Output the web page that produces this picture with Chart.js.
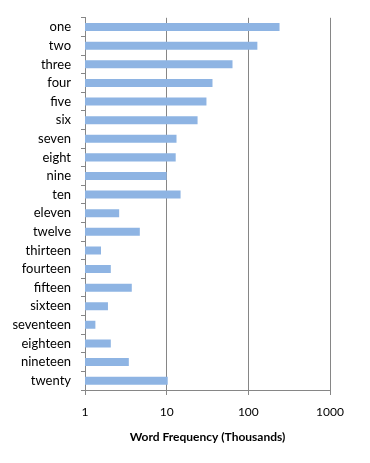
<!DOCTYPE html>
<html>
<head>
<meta charset="utf-8">
<script src="https://cdn.jsdelivr.net/npm/chart.js@4"></script>
<style>
  html, body { margin: 0; padding: 0; background: #fff; }
  #wrap { width: 370px; height: 463px; }
</style>
</head>
<body>
<div id="wrap"><canvas id="myChart"></canvas></div>
<script>
// word categories and frequencies (thousands)
const words = ['one', 'two', 'three', 'four', 'five', 'six', 'seven', 'eight', 'nine', 'ten',
  'eleven', 'twelve', 'thirteen', 'fourteen', 'fifteen', 'sixteen', 'seventeen', 'eighteen', 'nineteen', 'twenty'];
const freq = [241, 129, 64, 36.4, 30.7, 23.9, 13.2, 12.9, 10, 14.8,
  2.62, 4.69, 1.57, 2.07, 3.74, 1.91, 1.34, 2.07, 3.44, 10.3];
const xTicks = [1, 10, 100, 1000];

const axisGray = '#868686';

var ctx = document.getElementById('myChart').getContext('2d');
var chart = new Chart(ctx, {
    type: 'bar',
    data: {
        labels: words,
        datasets: [{
            data: freq,
            backgroundColor: '#8EB4E3',
            borderWidth: 0,
            categoryPercentage: 0.86,
            barPercentage: 0.5
        }]
    },
    options: {
        indexAxis: 'y',
        responsive: true,
        maintainAspectRatio: false,
        animation: false,
        layout: { padding: { top: 15, right: 40, left: 0, bottom: 19 } },
        plugins: {
            legend: { display: false },
            tooltip: { enabled: false }
        },
        scales: {
            x: {
                type: 'logarithmic',
                min: 1,
                max: 1000,
                afterBuildTicks: function (scale) {
                    scale.ticks = xTicks.map(v => ({ value: v }));
                },
                afterFit: function (scale) { scale.height = 54; },
                ticks: {
                    color: '#000',
                    font: { family: 'Lato', size: 12 },
                    padding: 10,
                    maxRotation: 0,
                    callback: function (v) { return String(v); }
                },
                grid: {
                    color: axisGray,
                    lineWidth: 1,
                    tickLength: 5,
                    drawOnChartArea: true
                },
                border: { display: true, color: axisGray, width: 1 },
                title: {
                    display: true,
                    text: 'Word Frequency (Thousands)',
                    color: '#000',
                    font: { family: 'Lato', size: 12, weight: 'bold' },
                    padding: { top: 10, bottom: 0 }
                }
            },
            y: {
                afterFit: function (scale) { scale.width = 85; },
                ticks: {
                    color: '#000',
                    font: { family: 'Lato', size: 13 },
                    padding: 10,
                    autoSkip: false
                },
                grid: {
                    offset: true,
                    color: axisGray,
                    drawOnChartArea: false,
                    tickLength: 4
                },
                border: { display: true, color: axisGray, width: 1 }
            }
        }
    }
});
</script>
</body>
</html>
